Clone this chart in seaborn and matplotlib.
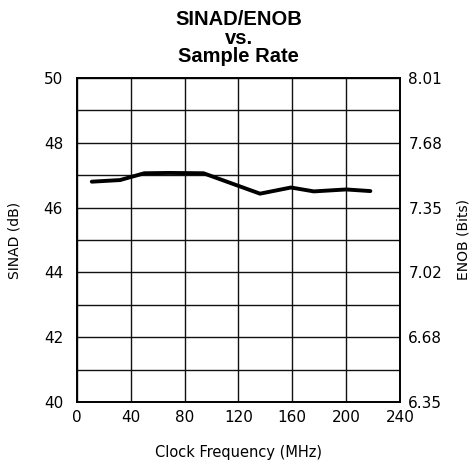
import matplotlib
matplotlib.use("Agg")
import matplotlib.pyplot as plt
import seaborn as sns
import pandas as pd
import numpy as np

# data
clock_mhz = [11, 32, 50, 68, 94, 136, 159, 176, 200, 218]
sinad_db = [46.8, 46.85, 47.06, 47.07, 47.06, 46.43, 46.62, 46.5, 46.56, 46.51]

x_ticks = [0, 40, 80, 120, 160, 200, 240]
sinad_ticks = [40, 42, 44, 46, 48, 50]
enob_labels = ["6.35", "6.68", "7.02", "7.35", "7.68", "8.01"]

df = pd.DataFrame({"clock": clock_mhz, "sinad": sinad_db})

sns.set_style("white")
plt.rcParams["font.family"] = ["DejaVu Sans"]
plt.rcParams["text.color"] = "black"
plt.rcParams["axes.labelcolor"] = "black"

fig = plt.figure(figsize=(4.77, 4.71), dpi=100)
ax = fig.add_axes([0.1614, 0.1465, 0.6771, 0.6879])

sns.lineplot(data=df, x="clock", y="sinad", ax=ax, color="black", linewidth=2.8)

ax.set_xlim(0, 240)
ax.set_ylim(40, 50)
ax.set_xticks(x_ticks)
ax.set_yticks(sinad_ticks)
ax.set_yticks(np.arange(40, 51, 1), minor=True)
ax.grid(True, which="both", color="#111111", linewidth=1.0)
ax.tick_params(axis="both", which="both", length=0, labelsize=11, colors="black")
ax.tick_params(axis="y", pad=10)
ax.tick_params(axis="x", pad=6)
for s in ax.spines.values():
    s.set_color("black")
    s.set_linewidth(1.4)

ax.set_xlabel("Clock Frequency (MHz)", fontsize=10.5, labelpad=14, color="black")
ax.set_ylabel("SINAD (dB)", fontsize=10, labelpad=16, color="black")

# right axis: ENOB scale
ax2 = ax.twinx()
ax2.set_ylim(40, 50)
ax2.set_yticks(sinad_ticks)
ax2.set_yticklabels(enob_labels)
ax2.tick_params(axis="y", length=0, labelsize=11, pad=6, colors="black")
ax2.set_ylabel("ENOB (Bits)", fontsize=10, labelpad=10, color="black")
for s in ax2.spines.values():
    s.set_visible(False)

fig.text(0.5, 1 - 10 / 471, "SINAD/ENOB\nvs.\nSample Rate", ha="center", va="top",
         fontsize=14.5, fontweight="bold", family="Liberation Sans", linespacing=0.98,
         color="black")

fig.savefig("out.png", dpi=100)
